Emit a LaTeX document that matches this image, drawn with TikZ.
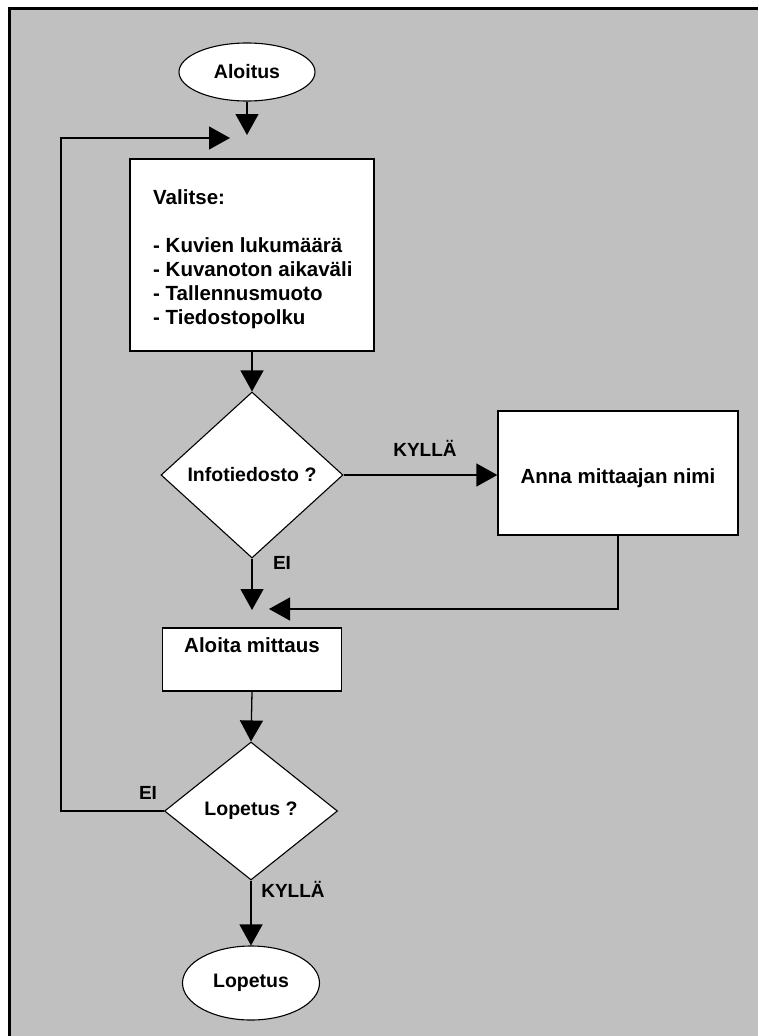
\documentclass[tikz,border=0pt]{standalone}
\usepackage{fontspec}
\setmainfont{Liberation Sans}
\usetikzlibrary{shapes.geometric,arrows.meta}
\definecolor{bggray}{RGB}{192,192,192}
\begin{document}
\begin{tikzpicture}[x=1pt,y=-1pt,
  conn/.style={line width=1.3pt, draw=black},
  arr/.style={conn, -{Triangle[width=23pt,length=21pt]}},
  bigtxt/.style={font=\bfseries\fontsize{20.5}{24}\selectfont},
  midtxt/.style={font=\bfseries\fontsize{19.5}{24}\selectfont},
  term/.style={ellipse, draw=black, line width=1.1pt, fill=white, inner sep=0pt, midtxt},
  proc/.style={rectangle, draw=black, line width=1.3pt, fill=white, inner sep=0pt, bigtxt},
  dec/.style={diamond, draw=black, line width=1.1pt, fill=white, inner sep=0pt, midtxt},
  lbl/.style={font=\bfseries\fontsize{19}{24}\selectfont, anchor=base, inner sep=0pt}]
\useasboundingbox (0,0) rectangle (758,1036);
\fill[white] (0,0) rectangle (758,1036);
\fill[bggray] (9,8) rectangle (758,1036);
\draw[line width=3pt] (9,1036) -- (9,8) -- (758,8);

% nodes
\node[term, minimum width=136pt, minimum height=58pt] (start) at (247,72) {Aloitus};
\coordinate (in1) at (247,135);
\coordinate (in2) at (230,138);
\node[proc, minimum width=244pt, minimum height=192pt] (choose) at (252,255) {};
\node[bigtxt, align=left, anchor=north west, inner sep=0pt] (chooseTxt) at (153,189)
  {Valitse:\\[24pt]- Kuvien lukumäärä\\- Kuvanoton aikaväli\\- Tallennusmuoto\\- Tiedostopolku};
\node[dec, minimum width=182pt, minimum height=166pt] (info) at (252,475) {Infotiedosto ?};
\node[proc, minimum width=240pt, minimum height=124pt, text height=26pt, text depth=6pt] (name) at (618,473) {Anna mittaajan nimi};
\coordinate (in3) at (252,610);
\coordinate (in4) at (269,609);
\node[proc, minimum width=179pt, minimum height=63pt, text height=14pt, text depth=29pt] (measure) at (252,659.5) {Aloita mittaus};
\node[dec, minimum width=173pt, minimum height=138pt] (stopq) at (251,811) {Lopetus ?};
\coordinate (loopL) at (61,811);
\node[term, minimum width=137pt, minimum height=74pt] (end) at (251,983) {Lopetus};

% labels
\node[lbl] (kyl1) at (425,456) {KYLLÄ};
\node[lbl] (ei1) at (282,569) {EI};
\node[lbl] (ei2) at (148,799) {EI};
\node[lbl] (kyl2) at (293,897) {KYLLÄ};

% connectors
\draw[arr] (start.south) -- (in1);
\draw[arr] (stopq.west) -- (loopL) |- (in2);
\draw[arr] (choose.south) -- (info.north);
\draw[arr] (info.east) -- (info.east -| name.west);
\draw[arr] (info.south) -- (in3);
\draw[arr] (name.south) |- (in4);
\draw[arr] (measure.south) -- (stopq.north);
\draw[arr] (stopq.south) -- (end.north);
\end{tikzpicture}
\end{document}
